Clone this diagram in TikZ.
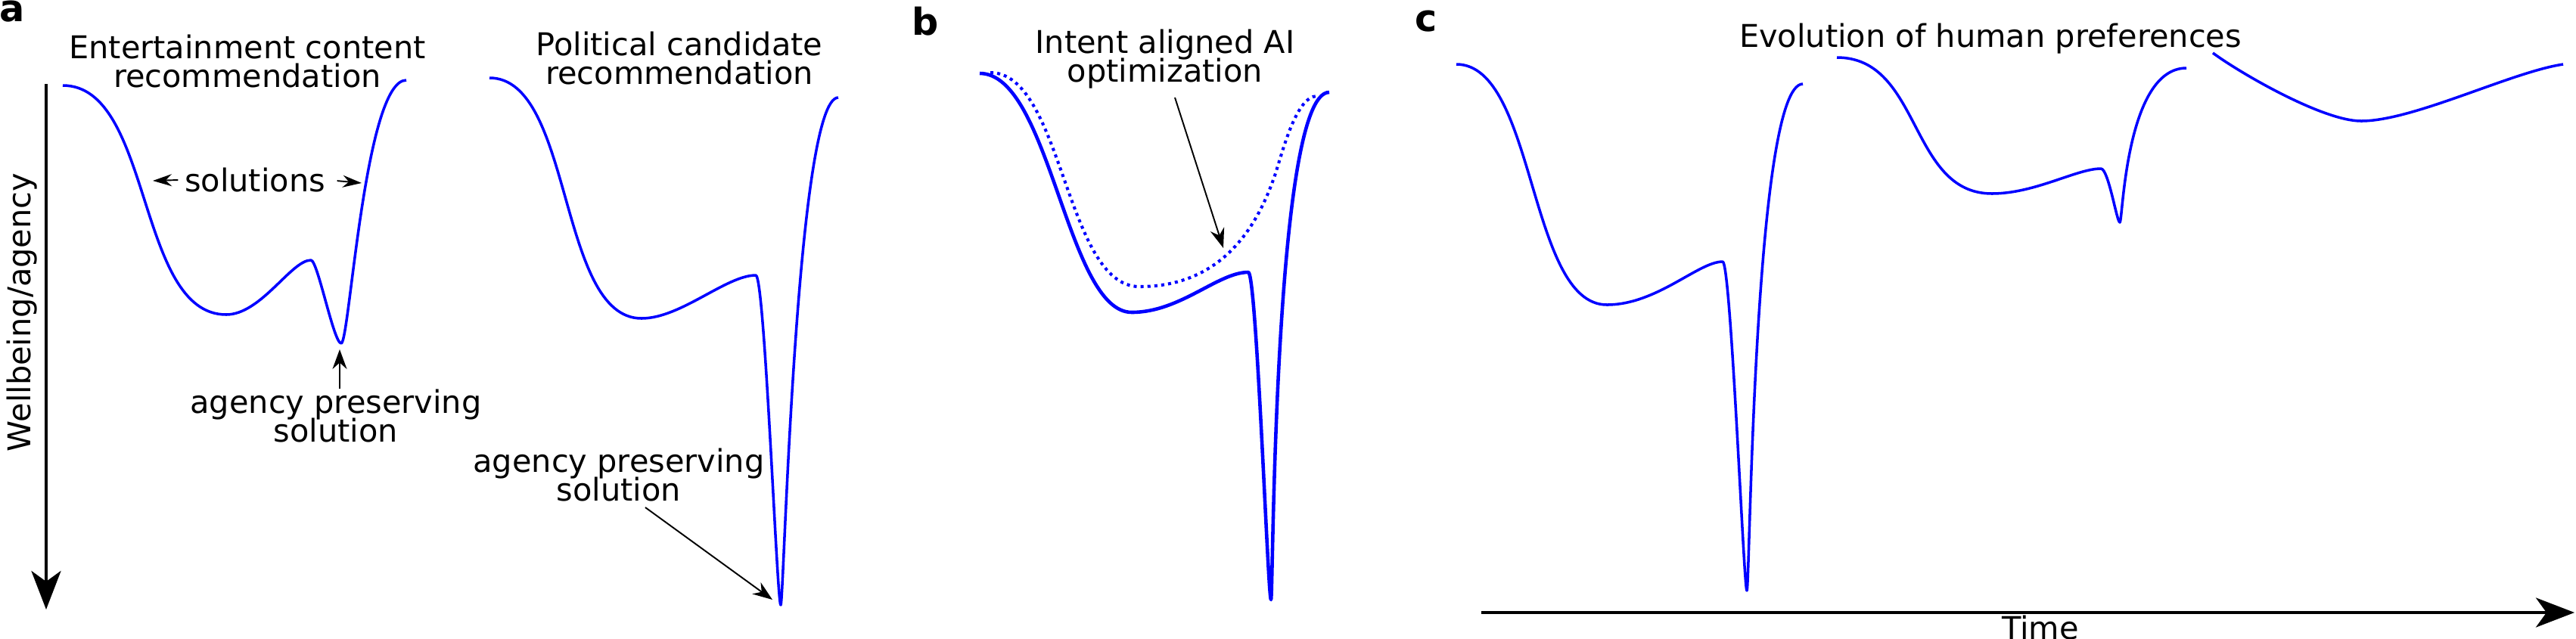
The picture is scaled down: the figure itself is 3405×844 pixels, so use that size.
\documentclass[tikz,border=0pt]{standalone}
\usepackage{fontspec}
\setmainfont{DejaVu Sans}
\usetikzlibrary{arrows.meta}
\definecolor{curveblue}{RGB}{0,0,255}
\newcommand\lblfont{\fontsize{11.8}{10.8}\selectfont\lineskiplimit=-50pt\relax}
\begin{document}
\begin{tikzpicture}[x=0.01cm,y=-0.01cm,
  curve/.style={draw=curveblue, line width=1.0pt, line join=round},
  curveb/.style={draw=curveblue, line width=1.3pt, line join=round},
  dotcurve/.style={draw=curveblue, line width=1.15pt, dash pattern=on 1.15pt off 1.45pt},
  lbl/.style={font=\lblfont, inner sep=0pt, align=center},
  panel/.style={font=\bfseries\fontsize{14}{16}\selectfont, inner sep=0pt},
  axis/.style={line width=1.2pt, -{Stealth[length=0.51cm,width=0.39cm,inset=0.14cm]}},
  pointer/.style={line width=0.55pt, -{Stealth[length=0.26cm,width=0.19cm]}},
  pointersmall/.style={line width=0.55pt, -{Stealth[length=0.25cm,width=0.16cm]}},
  ]
\useasboundingbox (0,0) rectangle (3405,844);

% panel labels
\node[panel, anchor=base west] (pa) at (-1,28) {a};
\node[panel, anchor=base west] (pb) at (1205,46) {b};
\node[panel, anchor=base west] (pc) at (1870,41) {c};

% titles
\node[lbl, anchor=north] (ta) at (327,45) {Entertainment content\\recommendation};
\node[lbl, anchor=north] (tp) at (898,41) {Political candidate\\recommendation};
\node[lbl, anchor=north] (tb) at (1540,38) {Intent aligned AI\\optimization};
\node[lbl, anchor=north] (tc) at (2631,30) {Evolution of human preferences};

% axes
\coordinate (ytop) at (61,111);
\coordinate (ybot) at (61,806);
\draw[axis] (ytop) -- (ybot);
\node[lbl, rotate=90] (ylab) at (29.5,413) {Wellbeing/agency};
\coordinate (xleft) at (1958,810);
\coordinate (xright) at (3403,810);
\draw[axis] (xleft) -- (xright);
\node[lbl, anchor=north] (xlab) at (2697,813) {Time};

% panel a, left curve
\draw[curve] (83,113) .. controls (202,113) and (180,416) .. (299,416)
  .. controls (345,416) and (385,344) .. (411,344)
  .. controls (420,344) and (441,454) .. (451,454)
  .. controls (462,454) and (482,106) .. (537,106);

% panel a, right curve
\draw[curve] (647,103) .. controls (758,103) and (737,421) .. (848,421)
  .. controls (900,421) and (960,364) .. (999,364)
  .. controls (1011,364) and (1027,800) .. (1032,800)
  .. controls (1036,800) and (1052,129) .. (1108,129);

% solutions
\node[lbl, anchor=north] (sol) at (337,221) {solutions};
\coordinate (solL) at (202,239);
\coordinate (solR) at (478,242);
\draw[pointersmall, shorten <=0.08cm] (sol.west) -- (solL);
\draw[pointersmall, shorten <=0.15cm] (sol.east) -- (solR);

% agency preserving solutions
\node[lbl, anchor=north] (ap1) at (444,514) {agency preserving\\solution};
\coordinate (apt1) at (449,462);
\draw[pointer] (ap1.north -| apt1) -- (apt1);
\node[lbl, anchor=north] (ap2) at (818,592) {agency preserving\\solution};
\coordinate (aps2) at (853,671);
\coordinate (apt2) at (1021,793);
\draw[pointer] (aps2) -- (apt2);

% panel b
\draw[dotcurve] (1309,96) .. controls (1405,96) and (1408,379) .. (1506,379)
  .. controls (1602,379) and (1655,318) .. (1684,235)
  .. controls (1694,207) and (1712,127) .. (1741,127);
\draw[curveb] (1295,97) .. controls (1388,97) and (1410,413) .. (1496,413)
  .. controls (1560,413) and (1610,360) .. (1650,360)
  .. controls (1661,360) and (1676,793) .. (1680,793)
  .. controls (1683,793) and (1683,122) .. (1757,122);
\coordinate (ib) at (1553,129);
\coordinate (it) at (1617,328);
\draw[pointer] (ib) -- (it);

% panel c
\draw[curve] (1925,85) .. controls (2030,85) and (2020,403) .. (2124,403)
  .. controls (2190,403) and (2245,346) .. (2277,346)
  .. controls (2288,346) and (2305,781) .. (2309,781)
  .. controls (2313,781) and (2318,111) .. (2383,111);
\draw[curve] (2428,76) .. controls (2540,76) and (2523,256) .. (2633,256)
  .. controls (2690,256) and (2745,223) .. (2777,223)
  .. controls (2787,223) and (2798,294) .. (2802,294)
  .. controls (2806,294) and (2809,90) .. (2890,90);
\draw[curve] (2925,70) .. controls (2960,96) and (3070,160) .. (3121,160)
  .. controls (3190,160) and (3320,95) .. (3388,85);
\end{tikzpicture}
\end{document}
